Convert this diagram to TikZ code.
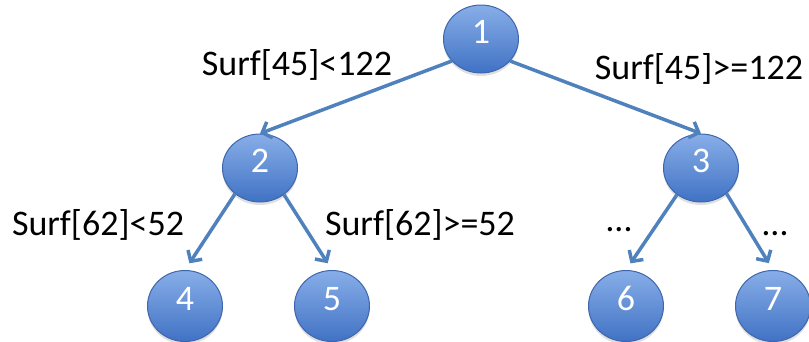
\documentclass[tikz,border=0pt]{standalone}
\usepackage{fontspec}
\setmainfont{Carlito}
\usetikzlibrary{shadows, arrows.meta, positioning, calc, shapes}
\definecolor{nodetop}{RGB}{136,174,232}
\definecolor{nodebot}{RGB}{64,114,196}
\definecolor{nodeline}{RGB}{62,102,172}
\definecolor{linkblue}{RGB}{79,129,189}

\begin{document}
\begin{tikzpicture}[
        every node/.style={font=\fontsize{36}{42}\selectfont},
        tnode/.style={ellipse, draw=nodeline, line width=1pt, top color=nodetop, bottom color=nodebot,
                minimum width=75pt, minimum height=68pt, inner sep=0pt, text=white,
                text height=0.86em, text depth=0pt,
                drop shadow={shadow xshift=0pt, shadow yshift=-3pt, opacity=0.25}},
        link/.style={linkblue, line width=3.5pt, -{Straight Barb[length=8pt,width=17pt]}},
        cond/.style={anchor=base, inner sep=0pt, text=black}
        ]
        \useasboundingbox (-481pt,-302pt) rectangle (328pt,39pt);

        % tree nodes
        \node[tnode] (n1) {1};
        \node[tnode, on grid, below left=129pt and 221pt of n1] (n2) {2};
        \node[tnode, on grid, below right=129pt and 220pt of n1] (n3) {3};
        \node[tnode, on grid, below left=138pt and 75pt of n2, minimum height=71pt] (n4) {4};
        \node[tnode, on grid, below right=138pt and 72pt of n2, minimum height=71pt] (n5) {5};
        \node[tnode, on grid, below left=138pt and 75pt of n3, minimum height=71pt] (n6) {6};
        \node[tnode, on grid, below right=138pt and 72pt of n3, minimum height=71pt] (n7) {7};

        % split conditions
        \node[cond] (c1) at ($(n1)+(-184pt,-36pt)$) {Surf[45]<122};
        \node[cond] (c2) at ($(n1)+(218pt,-40pt)$) {Surf[45]>=122};
        \node[cond] (c3) at ($(n1)+(-383pt,-196pt)$) {Surf[62]<52};
        \node[cond] (c4) at ($(n1)+(-61pt,-196pt)$) {Surf[62]>=52};
        \node[cond] (c5) at ($(n1)+(138pt,-192pt)$) {…};
        \node[cond] (c6) at ($(n1)+(294pt,-196pt)$) {…};

        \draw[link] (n1.217) -- (n2.north);
        \draw[link] (n1.323) -- (n3.north);
        \draw[link, shorten >=8pt] (n2.226) -- (n4.north);
        \draw[link, shorten >=8pt] (n2.312) -- (n5.north);
        \draw[link, shorten >=8pt] (n3.228) -- (n6.north);
        \draw[link, shorten >=8pt] (n3.315) -- (n7.north);
\end{tikzpicture}
\end{document}
